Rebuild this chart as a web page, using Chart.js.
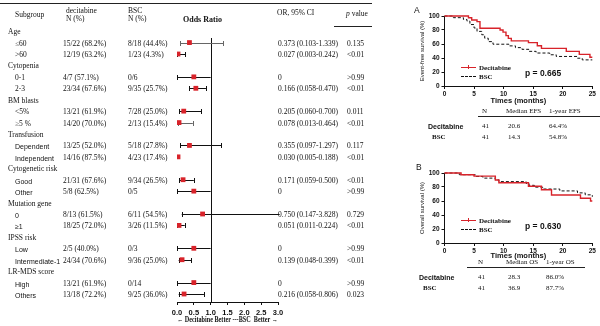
<!DOCTYPE html>
<html>
<head>
<meta charset="utf-8">
<script src="https://cdn.jsdelivr.net/npm/chart.js@4.4.0/dist/chart.umd.min.js"></script>
<style>
  body { margin: 0; background: #fff; }
  #wrap { position: relative; width: 600px; height: 326px; overflow: hidden;
          font-family: 'Liberation Serif', 'Times New Roman', serif; color: #111; }
  canvas { position: absolute; }
  .t { position: absolute; white-space: nowrap; line-height: 1; transform: translateY(-50%); font-size: 7.5px; }
  .sans { font-family: 'Liberation Sans', Arial, sans-serif; }
  .b { font-weight: bold; }
  .hl { position: absolute; height: 0; border-top: 1px solid #222; }
</style>
</head>
<body>
<div id="wrap">
  <canvas id="forest" width="360" height="326" style="left:0;top:0"></canvas>
  <canvas id="efs" width="184" height="104" style="left:416px;top:4px"></canvas>
  <canvas id="os" width="184" height="104" style="left:416px;top:161px"></canvas>
</div>
<script>
// ---- forest plot data ----
const groups = ['Age', 'Cytopenia', 'BM blasts', 'Transfusion', 'Cytogenetic risk',
  'Mutation gene', 'IPSS risk', 'LR-MDS score'];
const subgroups = ['≤60', '>60', '0-1', '2-3', '<5%', '≥5 %', 'Dependent', 'Independent',
  'Good', 'Other', '0', '≥1', 'Low', 'Intermediate-1', 'High', 'Others'];
const decitabineN = ['15/22 (68.2%)', '12/19 (63.2%)', '4/7 (57.1%)', '23/34 (67.6%)',
  '13/21 (61.9%)', '14/20 (70.0%)', '13/25 (52.0%)', '14/16 (87.5%)', '21/31 (67.6%)',
  '5/8 (62.5%)', '8/13 (61.5%)', '18/25 (72.0%)', '2/5 (40.0%)', '24/34 (70.6%)',
  '13/21 (61.9%)', '13/18 (72.2%)'];
const bscN = ['8/18 (44.4%)', '1/23 (4.3%)', '0/6', '9/35 (25.7%)', '7/28 (25.0%)',
  '2/13 (15.4%)', '5/18 (27.8%)', '4/23 (17.4%)', '9/34 (26.5%)', '0/5', '6/11 (54.5%)',
  '3/26 (11.5%)', '0/3', '9/36 (25.0%)', '0/14', '9/25 (36.0%)'];
const orText = ['0.373 (0.103-1.339)', '0.027 (0.003-0.242)', '0', '0.166 (0.058-0.470)',
  '0.205 (0.060-0.700)', '0.078 (0.013-0.464)', '0.355 (0.097-1.297)', '0.030 (0.005-0.188)',
  '0.171 (0.059-0.500)', '0', '0.750 (0.147-3.828)', '0.051 (0.011-0.224)', '0',
  '0.139 (0.048-0.399)', '0', '0.216 (0.058-0.806)'];
const pText = ['0.135', '<0.01', '>0.99', '<0.01', '0.011', '<0.01', '0.117', '<0.01',
  '<0.01', '>0.99', '0.729', '<0.01', '>0.99', '<0.01', '>0.99', '0.023'];
// marks as drawn in the figure
const markerAt = [0.37, 0.03, 0.5, 0.56, 0.2, 0.06, 0.37, 0.03, 0.18, 0.5, 0.76, 0.06, 0.5, 0.15, 0.5, 0.21];
const ciLow = [0.10, 0.01, 0, 0.36, 0.07, 0.02, 0.10, null, 0.07, 0, 0.14, 0.01, 0, 0.05, 0, 0.05];
const ciHigh = [1.37, 0.25, 1, 0.86, 0.72, 0.47, 1.32, null, 0.5, 1, 3.83, 0.23, 1, 0.42, 1, 0.8];
const xTicks = [0, 0.5, 1, 1.5, 2, 2.5, 3];

// ---- survival curves (time in months, survival %) ----
const efsTimeDec = [0, 4.05, 4.6, 5.5, 6.0, 9.4, 9.9, 10.4, 10.8, 11.3, 14.2, 15.7, 16.4, 20.6, 22.8, 24.6, 25];
const efsDec = [100, 97.6, 94.3, 91.9, 82.4, 80.0, 77.0, 72.0, 68.0, 64.4, 62.0, 57.6, 53.8, 49.5, 45.2, 41.0, 41.0];
const efsTimeBsc = [0, 1.5, 3.2, 3.8, 4.3, 5.0, 5.5, 6.3, 6.8, 7.4, 8.2, 10.9, 12.0, 13.1, 14.3, 15.5, 17.8, 18.9, 22.5, 23.3, 25];
const efsBsc = [100, 97.6, 95.1, 92.7, 87.8, 82.9, 78.0, 73.2, 68.3, 63.4, 59.7, 57.3, 54.8, 52.4, 49.5, 47.1, 44.6, 42.2, 39.7, 37.3, 37.3];
const osTimeDec = [0, 2.8, 5.0, 8.6, 9.2, 14.2, 16.4, 18.1, 23.0, 24.7, 25];
const osDec = [100, 97.6, 95.6, 90.0, 86.0, 81.0, 76.0, 68.6, 64.0, 60.0, 60.0];
const osTimeBsc = [0, 2.5, 5.2, 6.5, 8.6, 9.2, 13.8, 14.3, 15.2, 16.6, 19.5, 22.5, 23.8, 25];
const osBsc = [100, 97.6, 95.1, 92.7, 90.2, 87.7, 85.1, 82.4, 79.8, 77.1, 74.4, 71.6, 68.8, 66.0];
const efsTable = [['Decitabine', '41', '20.6', '64.4%'], ['BSC', '41', '14.3', '54.8%']];
const osTable = [['Decitabine', '41', '28.3', '86.0%'], ['BSC', '41', '36.9', '87.7%']];

const RED = '#d8232a';
const wrap = document.getElementById('wrap');

function txt(s, x, y, cls, extra) {
  const d = document.createElement('div');
  d.className = 't ' + (cls || '');
  d.textContent = s;
  d.style.left = x + 'px';
  d.style.top = y + 'px';
  if (extra) Object.assign(d.style, extra);
  wrap.appendChild(d);
  return d;
}
function hline(x, y, w, extra) {
  const d = document.createElement('div');
  d.className = 'hl';
  d.style.left = x + 'px'; d.style.top = y + 'px'; d.style.width = w + 'px';
  if (extra) Object.assign(d.style, extra);
  wrap.appendChild(d);
}

// row index in the table: group header, then two subgroup rows
const rowOf = i => Math.floor(i / 2) * 3 + 1 + (i % 2);

const ciPlugin = {
  id: 'ci',
  beforeDatasetsDraw(chart) {
    const { ctx, chartArea, scales: { x, y } } = chart;
    ctx.save();
    ctx.lineWidth = 1;
    ctx.strokeStyle = '#111';
    const xr = Math.round(x.getPixelForValue(1)) + 0.5;
    ctx.beginPath();
    ctx.moveTo(xr, chartArea.top);
    ctx.lineTo(xr, chartArea.bottom);
    ctx.stroke();
    ciLow.forEach((lo, i) => {
      if (lo === null) return;
      const hi = ciHigh[i];
      const yy = Math.round(y.getPixelForValue(rowOf(i))) + 0.5;
      const x0 = x.getPixelForValue(lo);
      const x1 = x.getPixelForValue(Math.min(hi, x.max + 0.05));
      ctx.strokeStyle = (i === 0 || i === 5) ? '#666' : '#111';
      ctx.beginPath();
      ctx.moveTo(x0, yy); ctx.lineTo(x1, yy);
      ctx.moveTo(Math.round(x0) + 0.5, yy - 2.5); ctx.lineTo(Math.round(x0) + 0.5, yy + 2.5);
      if (hi <= x.max) {
        ctx.moveTo(Math.round(x1) + 0.5, yy - 2.5); ctx.lineTo(Math.round(x1) + 0.5, yy + 2.5);
      }
      ctx.stroke();
    });
    ctx.restore();
  }
};

const forest = new Chart(document.getElementById('forest'), {
  type: 'scatter',
  data: {
    datasets: [{
      data: markerAt.map((v, i) => ({ x: v, y: rowOf(i) })),
      pointStyle: 'rect',
      pointRadius: 3.4,
      backgroundColor: RED,
      borderWidth: 0
    }]
  },
  plugins: [ciPlugin],
  options: {
    responsive: false,
    animation: false,
    events: [],
    layout: { padding: { left: 177, right: 82, top: 38, bottom: 0 } },
    plugins: { legend: { display: false }, tooltip: { enabled: false } },
    scales: {
      x: {
        type: 'linear', min: 0, max: 3,
        afterBuildTicks: s => { s.ticks = xTicks.map(v => ({ value: v })); },
        afterFit: s => { s.height = 24; },
        ticks: {
          callback: v => v.toFixed(1), color: '#111', padding: 3, maxRotation: 0, autoSkip: false,
          font: { family: 'Liberation Sans', weight: 'bold', size: 7.5 }
        },
        grid: { display: true, drawOnChartArea: false, drawTicks: true, tickLength: 3, color: '#111' },
        border: { color: '#111', width: 1 },
        title: {
          display: true, text: '← Decitabine Better ---BSC  Better →', color: '#111',
          font: { family: 'Liberation Serif', weight: 'bold', size: 7.5 },
          padding: { top: 0, bottom: 1.5 }
        }
      },
      y: { type: 'linear', reverse: true, min: 0.6, max: 23.7, display: false }
    }
  }
});

// ---- table text around the forest plot ----
hline(0, 3, 372);
hline(334, 26, 38);
txt('Subgroup', 15, 15);
txt('decitabine', 66, 11);
txt('N (%)', 66, 19);
txt('BSC', 128, 11);
txt('N (%)', 128, 19);
txt('Odds Ratio', 183, 20, 'b', { fontSize: '8px' });
txt('OR, 95% CI', 277, 13);
const pv = txt('', 346, 14);
pv.innerHTML = '<i>p</i> value';

const ys = forest.scales.y;
groups.forEach((g, gi) => {
  txt(g, 8, ys.getPixelForValue(gi * 3) + 1);
});
subgroups.forEach((s, i) => {
  const yy = ys.getPixelForValue(rowOf(i)) + 1;
  txt(s, 15, yy, i >= 6 ? 'sans' : '', i >= 6 ? { fontSize: '7px' } : null);
  txt(decitabineN[i], 63, yy);
  txt(bscN[i], 128, yy);
  txt(orText[i], 278, yy);
  txt(pText[i], 347, yy);
});

// ---- Kaplan-Meier panels ----
function kmChart(id, tDec, sDec, tBsc, sBsc, yTitle, titlePadBottom) {
  const pts = (t, s) => t.map((v, i) => ({ x: v, y: s[i] }));
  const tickFont = { family: 'Liberation Sans', weight: 'bold', size: 6.5 };
  return new Chart(document.getElementById(id), {
    type: 'line',
    data: {
      datasets: [
        { data: pts(tDec, sDec), borderColor: RED, borderWidth: 1.4, stepped: true, pointRadius: 0, clip: 3 },
        { data: pts(tBsc, sBsc), borderColor: '#111', borderWidth: 1, borderDash: [3, 2], stepped: true, pointRadius: 0, clip: 3 }
      ]
    },
    options: {
      responsive: false,
      animation: false,
      events: [],
      layout: { padding: { left: 0, right: 7.7, top: 12, bottom: 0 } },
      plugins: { legend: { display: false }, tooltip: { enabled: false } },
      scales: {
        x: {
          type: 'linear', min: 0, max: 25,
          afterFit: s => { s.height = 22; },
          ticks: { stepSize: 5, color: '#111', padding: 1, maxRotation: 0, font: tickFont },
          grid: { drawOnChartArea: false, tickLength: 3, color: '#111' },
          border: { color: '#111', width: 1 },
          title: { display: true, text: 'Times (months)', color: '#111',
            font: { family: 'Liberation Sans', weight: 'bold', size: 7.5 },
            padding: { top: 0, bottom: titlePadBottom } }
        },
        y: {
          type: 'linear', min: 0, max: 100,
          afterFit: s => { s.width = 28.5; },
          ticks: { stepSize: 20, color: '#111', padding: 2, font: tickFont },
          grid: { drawOnChartArea: false, tickLength: 3, color: '#111' },
          border: { color: '#111', width: 1 },
          title: { display: true, text: yTitle, color: '#111',
            font: { family: 'Liberation Sans', size: 6 },
            padding: { top: 2.4, bottom: 0 } }
        }
      }
    }
  });
}

kmChart('efs', efsTimeDec, efsDec, efsTimeBsc, efsBsc, 'Event-free survival (%)', 2.5);
kmChart('os', osTimeDec, osDec, osTimeBsc, osBsc, 'Overall survival (%)', 4.5);

function kmLegend(top, pText_) {
  hline(461, top, 15, { borderTop: '1.5px solid ' + RED });
  const tick = document.createElement('div');
  Object.assign(tick.style, { position: 'absolute', left: '468px', top: (top - 2) + 'px', width: '1px', height: '4px', background: RED });
  wrap.appendChild(tick);
  txt('Decitabine', 479, top + 1, 'b', { fontSize: '7px' });
  hline(461, top + 9, 15, { borderTop: '1px dashed #111' });
  txt('BSC', 479, top + 10, 'b', { fontSize: '7px' });
  txt(pText_, 525, top + 6, 'sans b', { fontSize: '8.5px' });
}
kmLegend(67, 'p = 0.665');
kmLegend(220, 'p = 0.630');

function kmTable(top, lineX, lineW, cols, headers, rows) {
  txt(headers[0], cols[1], top, '', { fontSize: '7px' });
  txt(headers[1], cols[2] - 2, top, '', { fontSize: '7px' });
  txt(headers[2], cols[3], top, '', { fontSize: '7px' });
  hline(lineX, top + 5, lineW);
  rows.forEach((r, k) => {
    const yy = top + 15 + k * 11;
    if (k === 0) txt(r[0], cols[0], yy, 'sans b', { fontSize: '7px' });
    else txt(r[0], cols[0] + 4, yy, 'b', { fontSize: '7px' });
    txt(r[1], cols[1], yy, '', { fontSize: '7px' });
    txt(r[2], cols[2], yy, '', { fontSize: '7px' });
    txt(r[3], cols[3], yy, '', { fontSize: '7px' });
  });
}
txt('A', 414, 10, 'sans', { fontSize: '8.5px' });
txt('B', 416, 167, 'sans', { fontSize: '8.5px' });
kmTable(111, 478, 122, [428, 482, 508, 549], ['N', 'Median EFS', '1-year EFS'], efsTable);
kmTable(262, 467, 118, [419, 478, 508, 546], ['N', 'Median OS', '1-year OS'], osTable);
</script>
</body>
</html>
